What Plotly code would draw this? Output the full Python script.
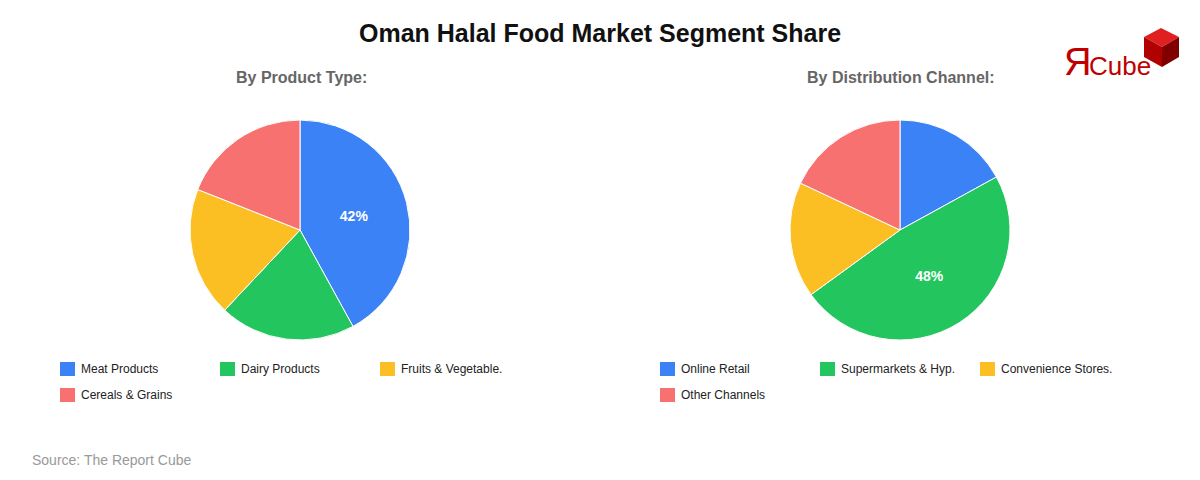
import plotly.graph_objects as go

prod_labels = ["Meat Products", "Dairy Products", "Fruits & Vegetable.", "Cereals & Grains"]
prod_values = [42, 20, 19, 19]
chan_labels = ["Online Retail", "Supermarkets & Hyp.", "Convenience Stores.", "Other Channels"]
chan_values = [17, 48, 17, 18]
colors = ["#3b82f6", "#22c55e", "#fbbf24", "#f87171"]

OFF = 8
W, H = 1200 - 2 * OFF, 480 - 2 * OFF
def px(x): return (x - OFF) / W
def py(y): return 1 - (y - OFF) / H

def txt(vals):
    m = max(vals)
    return [f"<b>{v}%</b>" if v == m else "" for v in vals]

fig = go.Figure()
for labels, values, dx in [(prod_labels, prod_values, 190), (chan_labels, chan_values, 790)]:
    fig.add_trace(go.Pie(labels=labels, values=values, sort=False, direction="clockwise",
                         rotation=0, marker=dict(colors=colors, line=dict(color="white", width=1)),
                         text=txt(values), textinfo="text", textposition="inside",
                         textfont=dict(color="white", size=14, family="Arial"),
                         domain=dict(x=[px(dx), px(dx + 220)], y=[py(340), py(120)]),
                         hoverinfo="label+percent", showlegend=False))

annotations = [
    dict(text="<b>Oman Halal Food Market Segment Share</b>", x=px(600), y=py(33), xanchor="center",
         font=dict(size=25, color="#111")),
    dict(text="<b>By Product Type:</b>", x=px(301), y=py(77), xanchor="center", font=dict(size=16, color="#666")),
    dict(text="<b>By Distribution Channel:</b>", x=px(901), y=py(77), xanchor="center", font=dict(size=16, color="#666")),
    dict(text="Source: The Report Cube", x=px(30), y=py(460), xanchor="left",
         font=dict(size=14, color="#999")),
    dict(text="Я", x=px(1062), y=py(62), xanchor="left", font=dict(size=38, color="#c00000", family="Arial")),
    dict(text="Cube", x=px(1087), y=py(66), xanchor="left", font=dict(size=26, color="#c00000", family="Arial")),
]
shapes = [
    dict(type="path", path=f"M {px(1144)} {py(37)} L {px(1161)} {py(28)} L {px(1179)} {py(37)} L {px(1162)} {py(47)} Z",
         fillcolor="#e02020", line=dict(width=0)),
    dict(type="path", path=f"M {px(1144)} {py(37)} L {px(1162)} {py(47)} L {px(1162)} {py(67)} L {px(1144)} {py(57)} Z",
         fillcolor="#b00000", line=dict(width=0)),
    dict(type="path", path=f"M {px(1162)} {py(47)} L {px(1179)} {py(37)} L {px(1179)} {py(57)} L {px(1162)} {py(67)} Z",
         fillcolor="#800000", line=dict(width=0)),
]
for labels, x0 in [(prod_labels, 60), (chan_labels, 660)]:
    for i, lab in enumerate(labels):
        x = x0 + 160 * (i % 3)
        y = 369 + 26 * (i // 3)
        shapes.append(dict(type="rect", x0=px(x), x1=px(x + 15), y0=py(y - 7), y1=py(y + 7),
                           fillcolor=colors[i], line=dict(width=0)))
        annotations.append(dict(text=lab, x=px(x + 19), y=py(y), xanchor="left",
                                font=dict(size=12, color="#222")))
for a in annotations:
    a.update(xref="paper", yref="paper", showarrow=False, yanchor="middle")
for s in shapes:
    s.update(xref="paper", yref="paper")

fig.update_layout(
    width=W, height=H, margin=dict(l=0, r=0, t=0, b=0),
    paper_bgcolor="white", plot_bgcolor="white", font=dict(family="Arial"),
    annotations=annotations, shapes=shapes,
)
fig.write_html("out.html")
